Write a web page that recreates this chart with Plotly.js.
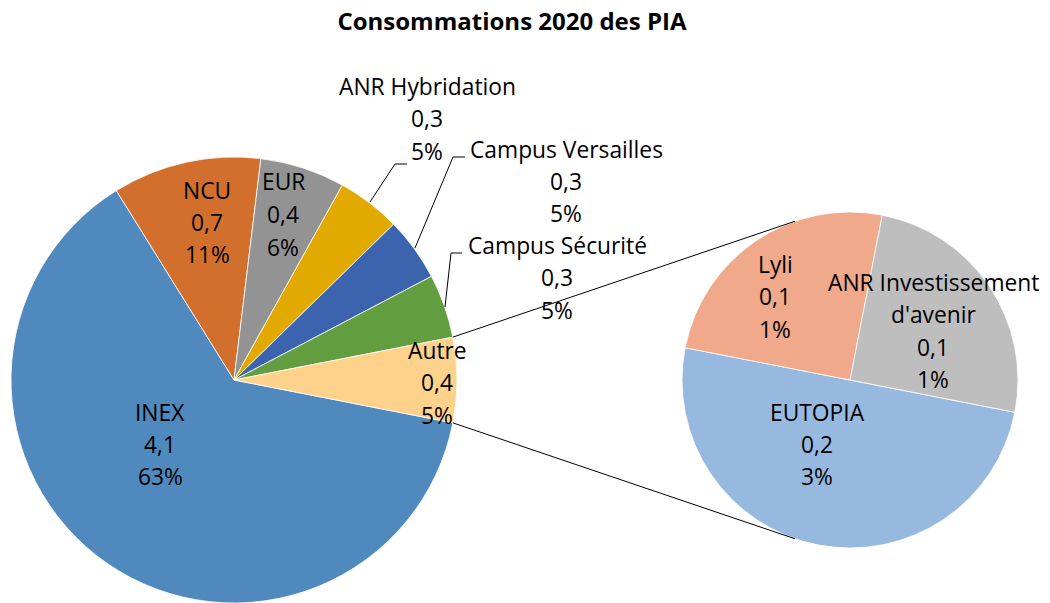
<!DOCTYPE html>
<html>
<head>
<meta charset="utf-8">
<script src="https://cdn.plot.ly/plotly-3.0.1.min.js"></script>
<style>html,body{margin:0;padding:0;background:#fff;}#chart{width:1050px;height:603px;}</style>
</head>
<body>
<div id="chart"></div>
<script>
// ---- data ----
const mainLabels = ['INEX', 'NCU', 'EUR', 'ANR Hybridation', 'Campus Versailles', 'Campus Sécurité', 'Autre'];
const mainValues = [4.1, 0.7, 0.4, 0.3, 0.3, 0.3, 0.4];
const mainPercentText = ['63%', '11%', '6%', '5%', '5%', '5%', '5%'];
const subLabels = ['EUTOPIA', 'Lyli', "ANR Investissement d'avenir"];
const subValues = [0.2, 0.1, 0.1];
const subPercentText = ['3%', '1%', '1%'];
const chartTitle = 'Consommations 2020 des PIA';

// ---- styles ----
const mainColors = ['#4F89BD', '#D26F2C', '#939393', '#E2AA00', '#3C64AE', '#629D3F', '#FFD28C'];
const subColors = ['#97B9E0', '#F0A98A', '#BEBEBE'];
const W = 1050, H = 603;
const FONT = '"Open Sans", Lato, sans-serif';
const FS = 22.8, LINE = 32.5;

// geometry (pixels)
const main = {cx: 234, cy: 380, r: 223};
const sub = {cx: 850, cy: 380, r: 168};

// label anchor positions (center of first line), pixels
const mainLabelPos = [[160, 412], [207, 190], [283, 182], [427, 86], [566, 149], [557, 245], [437, 350]];
const subLabelPos = [[817, 412], [775, 264], [933, 282]];
function splitLabel(s) { return s === "ANR Investissement d'avenir" ? ['ANR Investissement', "d'avenir"] : [s]; }
const fmt = v => v.toFixed(1).replace('.', ',');

const px = x => x / W, py = y => 1 - y / H;

const mainTotal = mainValues.reduce((a, b) => a + b, 0);
const otherIdx = mainLabels.indexOf('Autre');
const halfOther = mainValues[otherIdx] / mainTotal * 180; // degrees
const rotation = 90 + halfOther;

const traces = [
  {
    type: 'pie', labels: mainLabels, values: mainValues, sort: false, direction: 'clockwise',
    rotation: rotation, textinfo: 'none', hoverinfo: 'label+value',
    marker: {colors: mainColors, line: {color: '#ffffff', width: 0.8}},
    domain: {x: [px(main.cx - main.r), px(main.cx + main.r)], y: [py(main.cy + main.r), py(main.cy - main.r)]},
    showlegend: false
  },
  {
    type: 'pie', labels: subLabels, values: subValues, sort: false, direction: 'clockwise',
    rotation: rotation, textinfo: 'none', hoverinfo: 'label+value',
    marker: {colors: subColors, line: {color: '#ffffff', width: 0.8}},
    domain: {x: [px(sub.cx - sub.r), px(sub.cx + sub.r)], y: [py(sub.cy + sub.r), py(sub.cy - sub.r)]},
    showlegend: false
  }
];

const annotations = [];
function addLabel(lines, pos) {
  lines.forEach((t, i) => {
    annotations.push({
      text: t, xref: 'paper', yref: 'paper', x: px(pos[0]), y: py(pos[1] + i * LINE),
      xanchor: 'center', yanchor: 'middle', showarrow: false,
      font: {family: FONT, size: FS, color: '#000000'}
    });
  });
}
mainLabels.forEach((l, i) => addLabel(splitLabel(l).concat([fmt(mainValues[i]), mainPercentText[i]]), mainLabelPos[i]));
subLabels.forEach((l, i) => addLabel(splitLabel(l).concat([fmt(subValues[i]), subPercentText[i]]), subLabelPos[i]));

// leader lines for outside labels (pixels)
const leaders = [
  [[370, 202], [395, 164], [407, 164]],
  [[415, 248], [453, 157], [465, 157]],
  [[445, 307], [451, 253], [462, 253]]
];
const shapes = [];
leaders.forEach(pts => {
  let path = 'M ' + pts.map(p => px(p[0]) + ',' + py(p[1])).join(' L ');
  shapes.push({type: 'path', xref: 'paper', yref: 'paper', path: path, line: {color: '#000000', width: 1}});
});

// connector lines between pies
const a = halfOther * Math.PI / 180;
const subAng = 19.1 * Math.PI / 180;
[-1, 1].forEach(s => {
  const x0 = main.cx + main.r * Math.cos(a), y0 = main.cy + s * main.r * Math.sin(a);
  const x1 = sub.cx - sub.r * Math.sin(subAng), y1 = sub.cy + s * sub.r * Math.cos(subAng);
  shapes.push({type: 'line', xref: 'paper', yref: 'paper', x0: px(x0), y0: py(y0), x1: px(x1), y1: py(y1),
    line: {color: '#000000', width: 1}});
});

const layout = {
  width: W, height: H, margin: {l: 0, r: 0, t: 0, b: 0},
  paper_bgcolor: '#ffffff', plot_bgcolor: '#ffffff',
  title: {text: '<b>' + chartTitle + '</b>', x: 0.4876, xanchor: 'center', y: 1 - 22 / H, yanchor: 'middle',
    font: {family: FONT, size: 24, color: '#000000'}},
  annotations: annotations, shapes: shapes, showlegend: false
};

Plotly.newPlot('chart', traces, layout, {staticPlot: true});
</script>
</body>
</html>
